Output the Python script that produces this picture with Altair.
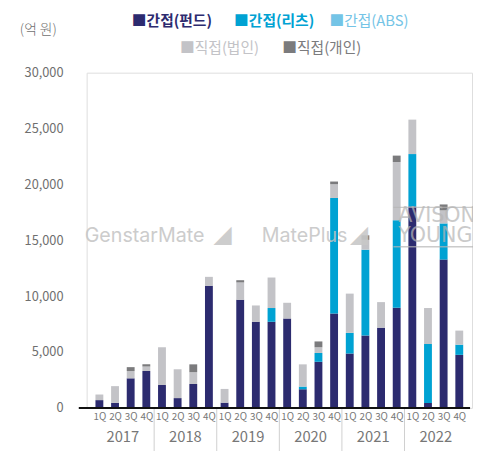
import altair as alt
import pandas as pd

years = ["2017", "2018", "2019", "2020", "2021", "2022"]
quarters = ["1Q", "2Q", "3Q", "4Q"]
series = ["간접(펀드)", "간접(리츠)", "간접(ABS)", "직접(법인)", "직접(개인)"]
colors = ["#2c2b6f", "#00a2d3", "#74c4e6", "#c3c3c7", "#7b7b7d"]

fund = [700, 450, 2650, 3300, 2050, 880, 2140, 10930, 470, 9670, 7710, 7710,
        8000, 1670, 4130, 8440, 4870, 6480, 7180, 8970, 18030, 440, 13280, 4750]
reits = [0, 0, 0, 0, 0, 0, 0, 0, 0, 0, 0, 1230,
         0, 240, 790, 10350, 1850, 7680, 0, 7830, 4690, 5280, 3230, 910]
abs_ = [0] * 24
corp = [500, 1500, 650, 400, 3380, 2580, 1060, 800, 1230, 1560, 1460, 2730,
        1410, 1990, 510, 1230, 3510, 880, 2290, 5210, 3080, 3220, 1170, 1260]
indiv = [0, 0, 350, 200, 0, 0, 700, 0, 0, 200, 0, 0,
         0, 0, 520, 240, 0, 410, 0, 570, 0, 0, 530, 0]

rows = []
for i in range(24):
    for k, vals in enumerate([fund, reits, abs_, corp, indiv]):
        rows.append({"idx": i, "series": series[k], "order": k, "value": vals[i]})
df = pd.DataFrame(rows)

W, H = 392, 341
FONT = "Noto Sans CJK KR"

color_scale = alt.Scale(domain=series, range=colors)
x_scale = alt.Scale(domain=[-0.5, 23.5], nice=False, zero=False)
x_axis = alt.Axis(values=list(range(24)), title=None, labelFontSize=10,
                  labelColor="#777777", labelFont=FONT, labelPadding=4,
                  labelOverlap=False, labelSeparation=0,
                  domain=False, ticks=False, grid=False,
                  labelExpr="['" + "','".join(quarters) + "'][datum.value % 4]")

bars = alt.Chart(df).mark_bar(size=8).encode(
    x=alt.X("idx:Q", scale=x_scale, axis=x_axis),
    y=alt.Y("value:Q", stack="zero",
            scale=alt.Scale(domain=[0, 30000], nice=False),
            axis=alt.Axis(values=[0, 5000, 10000, 15000, 20000, 25000, 30000], format=",d",
                          title=None, labelFontSize=13, labelColor="#6f6f6f",
                          labelFont=FONT, labelPadding=24,
                          domain=False, domainOpacity=0, ticks=False, grid=False)),
    color=alt.Color("series:N", scale=color_scale, legend=None),
    order=alt.Order("order:Q", sort="ascending"),
)

sep_df = pd.DataFrame({"idx": [3.5, 7.5, 11.5, 15.5, 19.5]})
seps = alt.Chart(sep_df).mark_rule(color="#cfcfcf", strokeWidth=1).encode(
    x=alt.X("idx:Q", scale=x_scale, axis=x_axis), y=alt.value(H), y2=alt.value(H + 44))

year_df = pd.DataFrame({"year": years, "idx": [1.5 + 4 * i for i in range(6)]})
year_text = alt.Chart(year_df).mark_text(fontSize=15, color="#777777", font=FONT,
                                         baseline="middle").encode(
    x=alt.X("idx:Q", scale=x_scale, axis=x_axis), y=alt.value(H + 30), text="year:N")

one = pd.DataFrame({"k": [0]})
baseline = alt.Chart(one).mark_rule(color="#111111", strokeWidth=2).encode(
    x=alt.value(-8), x2=alt.value(W - 2), y=alt.value(H))

# legend (custom, coloured labels)
leg_x = [46, 150, 247, 95, 199]
leg_y = [-52, -52, -52, -25, -25]
leg_w = ["bold", "bold", "normal", "normal", "normal"]
legend_layers = []
for k in range(5):
    legend_layers.append(
        alt.Chart(one).mark_text(align="left", baseline="middle", fontSize=15, font=FONT,
                                 fontWeight=leg_w[k], color=colors[k]).encode(
            x=alt.value(leg_x[k]), y=alt.value(leg_y[k]),
            text=alt.value("■" + series[k])))

unit = alt.Chart(one).mark_text(align="left", baseline="middle", fontSize=14,
                                font=FONT, fontWeight=300, color="#707070").encode(
    x=alt.value(-68), y=alt.value(-43), text=alt.value("(억 원)"))

# watermarks
wm_style = dict(font="Inter", color="#c4c4c4", opacity=0.85, baseline="middle", align="left")
wm1 = alt.Chart(one).mark_text(fontSize=20, **wm_style).encode(
    x=alt.value(-2), y=alt.value(166), text=alt.value("GenstarMate"))
wm1b = alt.Chart(one).mark_text(fontSize=24, font="DejaVu Sans", color="#c8c8c8",
                                opacity=0.9, baseline="middle", align="left").encode(
    x=alt.value(129), y=alt.value(165), text=alt.value("◢"))
wm2 = alt.Chart(one).mark_text(fontSize=20, **wm_style).encode(
    x=alt.value(178), y=alt.value(166), text=alt.value("MatePlus"))
wm2b = alt.Chart(one).mark_text(fontSize=24, font="DejaVu Sans", color="#c8c8c8",
                                opacity=0.9, baseline="middle", align="left").encode(
    x=alt.value(268), y=alt.value(165), text=alt.value("◢"))
wm3 = alt.Chart(one).mark_text(fontSize=21, font="DejaVu Sans", color="#b5b5b5",
                               opacity=0.7, baseline="middle", align="left").encode(
    x=alt.value(317), y=alt.value(146), text=alt.value("AVISON"))
wm4 = alt.Chart(one).mark_text(fontSize=21, font="DejaVu Sans", color="#b5b5b5",
                               opacity=0.7, baseline="middle", align="left").encode(
    x=alt.value(317), y=alt.value(166), text=alt.value("YOUNG"))
wm_l1 = alt.Chart(one).mark_rule(color="#b5b5b5", opacity=0.7, strokeWidth=1.5).encode(
    x=alt.value(312), x2=alt.value(W + 1), y=alt.value(137))
wm_l2 = alt.Chart(one).mark_rule(color="#b5b5b5", opacity=0.7, strokeWidth=1.5).encode(
    x=alt.value(312), x2=alt.value(W + 1), y=alt.value(177))

chart = alt.layer(
    bars, seps, year_text, baseline, *legend_layers, unit,
    wm1, wm1b, wm2, wm2b, wm3, wm4, wm_l1, wm_l2,
).properties(
    width=W, height=H,
    autosize=alt.AutoSizeParams(type="none"),
    padding={"left": 80, "top": 62, "right": 1, "bottom": 40},
).configure_view(
    stroke="transparent", strokeWidth=0, strokeOpacity=0
).configure_axis(
    domain=False, domainOpacity=0, grid=False, ticks=False
).configure_axisY(
    domain=False, domainOpacity=0
).configure(background="white")

chart.save("out.html", embed_options={"renderer": "svg", "actions": False})
